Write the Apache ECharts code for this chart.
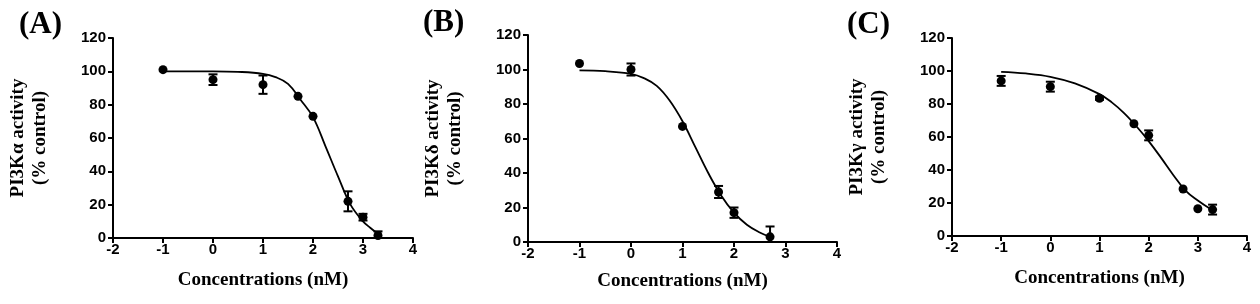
<!DOCTYPE html>
<html>
<head>
<meta charset="utf-8">
<script src="https://cdn.jsdelivr.net/npm/echarts@6/dist/echarts.min.js"></script>
<style>
  html, body { margin: 0; padding: 0; background: #fff; }
  #chart { width: 1260px; height: 304px; }
</style>
</head>
<body>
<div id="chart"></div>
<script>
// measured points: log10 concentration (nM), mean activity, error
const xA = [-1, 0, 1, 1.7, 2, 2.7, 3, 3.3];
const yA = [101, 95, 92, 85, 73, 22, 12.5, 1.5];
const errA = [0, 3.2, 5.5, 0, 0, 6, 2, 2.5];

const xB = [-1, 0, 1, 1.7, 2, 2.7];
const yB = [103.5, 100, 67, 29, 17, 3];
const errB = [0, 3.5, 0, 3.5, 3, 6];

const xC = [-1, 0, 1, 1.7, 2, 2.7, 3, 3.3];
const yC = [94, 90.5, 83.5, 68, 61, 28.5, 16.5, 16];
const errC = [3, 3, 1, 0, 3, 0, 0, 3];

// fitted curves
const curveXA = [-1, -0.5, 0, 0.5, 1, 1.25, 1.5, 1.75, 2, 2.25, 2.5, 2.75, 3, 3.15, 3.3];
const curveYA = [100, 100, 100, 99.7, 98.5, 96.5, 92.5, 83, 72.5, 55, 37, 20, 10, 6, 2.5];

const curveXB = [-1, -0.5, 0, 0.25, 0.5, 0.75, 1, 1.25, 1.5, 1.75, 2, 2.25, 2.5, 2.7];
const curveYB = [99.5, 99, 97.5, 95, 90.5, 82, 70, 55, 40, 27, 17, 10, 5.5, 3];

const curveXC = [-1, -0.5, 0, 0.5, 1, 1.25, 1.5, 1.75, 2, 2.25, 2.5, 2.75, 3, 3.25];
const curveYC = [99.5, 98.5, 96.5, 92.5, 86, 81, 74.5, 66.5, 57.5, 47.5, 37, 27.5, 21.5, 16.5];

const panelLabels = ['(A)', '(B)', '(C)'];
const yTitles = ['PI3Kα activity', 'PI3Kδ activity', 'PI3Kγ activity'];
const xTitle = 'Concentrations (nM)';

const grids = [
  { left: 113, top: 38, width: 300, height: 200 },
  { left: 528, top: 35, width: 309, height: 207 },
  { left: 952, top: 38, width: 295, height: 198 }
];
const labelPos = [[19, 9], [423, 7], [847, 9]];
const xNameGap = [33, 30, 33];

const sans = 'Liberation Sans, Arial, sans-serif';
const serif = 'Liberation Serif, Times New Roman, serif';

const pts = [
  [xA, yA, errA],
  [xB, yB, errB],
  [xC, yC, errC]
];
const curves = [
  [curveXA, curveYA],
  [curveXB, curveYB],
  [curveXC, curveYC]
];

const axisStyle = {
  axisLine: { onZero: false, lineStyle: { color: '#000', width: 2 } },
  axisTick: { show: true, length: 5, lineStyle: { color: '#000', width: 2 } },
  splitLine: { show: false }
};

const xAxes = grids.map((g, i) => ({
  gridIndex: i,
  type: 'value',
  min: -2, max: 4, interval: 1,
  ...axisStyle,
  axisLabel: { color: '#000', fontFamily: sans, fontWeight: 'bold', fontSize: 15, margin: 4 },
  name: xTitle,
  nameLocation: 'middle',
  nameGap: xNameGap[i],
  nameTextStyle: { color: '#000', fontFamily: serif, fontWeight: 'bold', fontSize: 19 }
}));

const yAxes = grids.map((g, i) => ({
  gridIndex: i,
  type: 'value',
  min: 0, max: 120, interval: 20,
  ...axisStyle,
  axisLabel: { color: '#000', fontFamily: sans, fontWeight: 'bold', fontSize: 15, margin: 7 },
  name: yTitles[i] + '\n(% control)',
  nameLocation: 'middle',
  nameRotate: 90,
  nameGap: 62,
  nameTextStyle: { color: '#000', fontFamily: serif, fontWeight: 'bold', fontSize: 19, lineHeight: 22 }
}));

const series = [];
pts.forEach((p, i) => {
  const xs = p[0], ys = p[1], es = p[2];
  series.push({
    type: 'line',
    xAxisIndex: i, yAxisIndex: i,
    data: curves[i][0].map((x, k) => [x, curves[i][1][k]]),
    smooth: 0.4,
    showSymbol: false,
    lineStyle: { color: '#000', width: 1.8 },
    z: 2
  });
  series.push({
    type: 'custom',
    xAxisIndex: i, yAxisIndex: i,
    clip: true,
    data: xs.map((x, k) => [x, ys[k], es[k]]),
    renderItem: function (params, api) {
      const x = api.value(0), y = api.value(1), e = api.value(2);
      if (!e) return { type: 'group', children: [] };
      const top = api.coord([x, y + e]);
      const bot = api.coord([x, y - e]);
      const hw = 4.5;
      const st = { stroke: '#000', lineWidth: 2 };
      return {
        type: 'group',
        children: [
          { type: 'line', shape: { x1: top[0], y1: top[1], x2: bot[0], y2: bot[1] }, style: st },
          { type: 'line', shape: { x1: top[0] - hw, y1: top[1], x2: top[0] + hw, y2: top[1] }, style: st },
          { type: 'line', shape: { x1: bot[0] - hw, y1: bot[1], x2: bot[0] + hw, y2: bot[1] }, style: st }
        ]
      };
    },
    z: 3
  });
  series.push({
    type: 'scatter',
    xAxisIndex: i, yAxisIndex: i,
    data: xs.map((x, k) => [x, ys[k]]),
    symbol: 'circle',
    symbolSize: 9,
    itemStyle: { color: '#000', opacity: 1 },
    z: 4
  });
});

const chart = echarts.init(document.getElementById('chart'));
chart.setOption({
  backgroundColor: '#fff',
  animation: false,
  title: panelLabels.map((t, i) => ({
    text: t,
    left: labelPos[i][0],
    top: labelPos[i][1],
    padding: 0,
    textStyle: { color: '#000', fontFamily: serif, fontWeight: 'bold', fontSize: 31 }
  })),
  grid: grids,
  xAxis: xAxes,
  yAxis: yAxes,
  series: series
});
</script>
</body>
</html>
